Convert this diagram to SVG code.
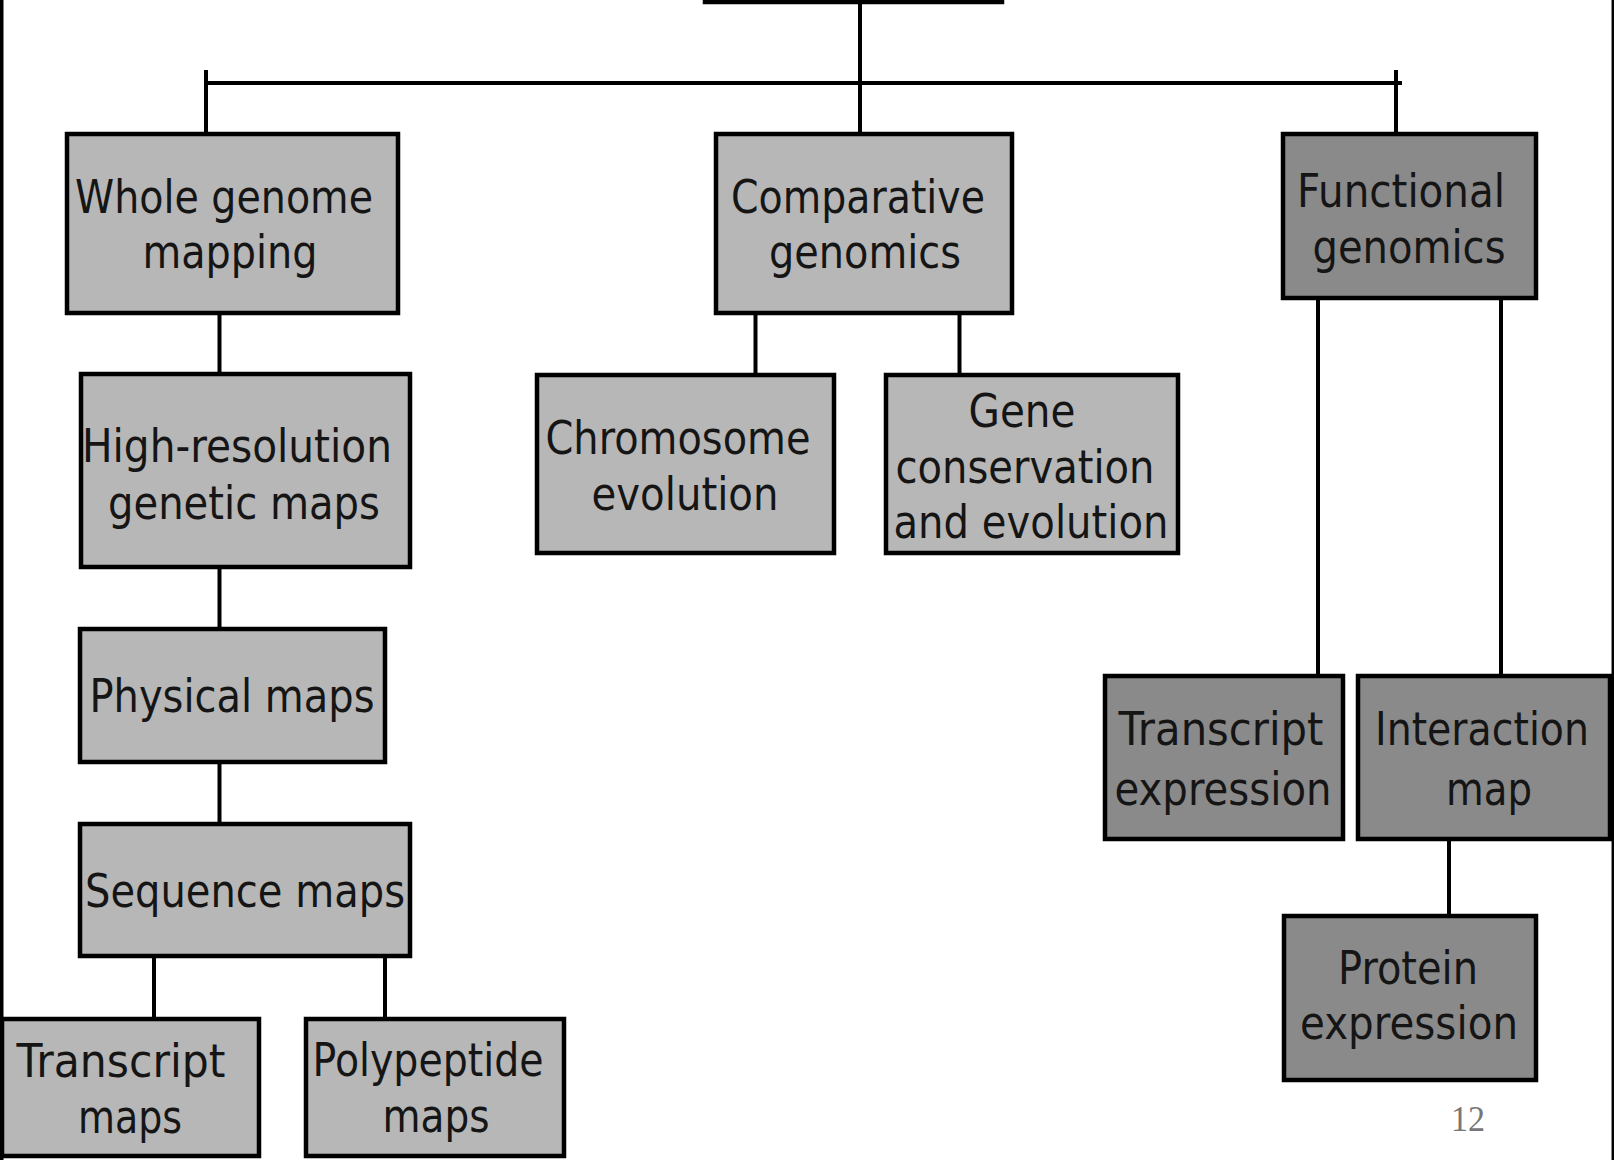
<svg xmlns="http://www.w3.org/2000/svg" width="1614" height="1160" viewBox="0 0 1614 1160">
<style>
.box{stroke:#000;stroke-width:4.5}
.light{fill:#b7b7b7}
.dark{fill:#8a8a8a}
.c{stroke:#000;stroke-width:4;fill:none}
text{font-family:"DejaVu Sans","Verdana",sans-serif;font-size:47px;fill:#151515;text-anchor:middle}
.pg{font-family:"Liberation Serif",serif;font-size:36px;fill:#777}
</style>
<rect width="1614" height="1160" fill="#fff"/>
<g id="frame">
<line x1="1.75" y1="0" x2="1.75" y2="1160" stroke="#000" stroke-width="3.5"/>
<line x1="1612.8" y1="0" x2="1612.8" y2="1160" stroke="#000" stroke-width="2.5"/>
</g>
<g id="connectors">
<line class="c" x1="860" y1="0" x2="860" y2="133"/>
<line class="c" x1="204" y1="83" x2="1402" y2="83" stroke-width="5.5"/>
<line class="c" x1="206" y1="70" x2="206" y2="133" stroke-width="3.5"/>
<line class="c" x1="1396" y1="70" x2="1396" y2="133" stroke-width="3.5"/>
<line class="c" x1="219.5" y1="314" x2="219.5" y2="374"/>
<line class="c" x1="219.5" y1="568" x2="219.5" y2="629"/>
<line class="c" x1="219.5" y1="763" x2="219.5" y2="824"/>
<line class="c" x1="154" y1="957" x2="154" y2="1019"/>
<line class="c" x1="385" y1="957" x2="385" y2="1019"/>
<line class="c" x1="755.5" y1="314" x2="755.5" y2="375"/>
<line class="c" x1="959.5" y1="314" x2="959.5" y2="375"/>
<line class="c" x1="1318" y1="299" x2="1318" y2="676"/>
<line class="c" x1="1501" y1="299" x2="1501" y2="676"/>
<line class="c" x1="1449" y1="840" x2="1449" y2="916"/>
</g>
<g id="root"><rect class="box" x="705" y="-60" width="297" height="62" fill="#fff"/></g>
<g id="whole-genome-mapping"><rect class="box light" x="67" y="134" width="331" height="179"/>
<text x="224" y="213" textLength="298" lengthAdjust="spacingAndGlyphs">Whole genome</text>
<text x="230" y="268" textLength="175" lengthAdjust="spacingAndGlyphs">mapping</text></g>
<g id="comparative-genomics"><rect class="box light" x="716" y="134" width="296" height="179"/>
<text x="858" y="213" textLength="254" lengthAdjust="spacingAndGlyphs">Comparative</text>
<text x="865" y="268" textLength="192" lengthAdjust="spacingAndGlyphs">genomics</text></g>
<g id="functional-genomics"><rect class="box dark" x="1283" y="134" width="253" height="164"/>
<text x="1401" y="207" textLength="208" lengthAdjust="spacingAndGlyphs">Functional</text>
<text x="1409" y="263" textLength="193" lengthAdjust="spacingAndGlyphs">genomics</text></g>
<g id="high-resolution-genetic-maps"><rect class="box light" x="81" y="374" width="329" height="193"/>
<text x="237" y="462" textLength="310" lengthAdjust="spacingAndGlyphs">High-resolution</text>
<text x="244" y="519" textLength="272" lengthAdjust="spacingAndGlyphs">genetic maps</text></g>
<g id="physical-maps"><rect class="box light" x="80" y="629" width="305" height="133"/>
<text x="232" y="712" textLength="285" lengthAdjust="spacingAndGlyphs">Physical maps</text></g>
<g id="sequence-maps"><rect class="box light" x="80" y="824" width="330" height="132"/>
<text x="245" y="907" textLength="320" lengthAdjust="spacingAndGlyphs">Sequence maps</text></g>
<g id="transcript-maps"><rect class="box light" x="2" y="1019" width="257" height="137"/>
<text x="121" y="1077" textLength="209" lengthAdjust="spacingAndGlyphs">Transcript</text>
<text x="130" y="1133" textLength="104" lengthAdjust="spacingAndGlyphs">maps</text></g>
<g id="polypeptide-maps"><rect class="box light" x="306" y="1019" width="258" height="137"/>
<text x="428" y="1076" textLength="231" lengthAdjust="spacingAndGlyphs">Polypeptide</text>
<text x="436" y="1132" textLength="107" lengthAdjust="spacingAndGlyphs">maps</text></g>
<g id="chromosome-evolution"><rect class="box light" x="537" y="375" width="297" height="178"/>
<text x="678" y="454" textLength="265" lengthAdjust="spacingAndGlyphs">Chromosome</text>
<text x="685" y="510" textLength="187" lengthAdjust="spacingAndGlyphs">evolution</text></g>
<g id="gene-conservation-and-evolution"><rect class="box light" x="886" y="375" width="292" height="178"/>
<text x="1022" y="427" textLength="107" lengthAdjust="spacingAndGlyphs">Gene</text>
<text x="1025" y="483" textLength="259" lengthAdjust="spacingAndGlyphs">conservation</text>
<text x="1031" y="538" textLength="275" lengthAdjust="spacingAndGlyphs">and evolution</text></g>
<g id="transcript-expression"><rect class="box dark" x="1105" y="676" width="238" height="163"/>
<text x="1221" y="745" textLength="205" lengthAdjust="spacingAndGlyphs">Transcript</text>
<text x="1223" y="805" textLength="217" lengthAdjust="spacingAndGlyphs">expression</text></g>
<g id="interaction-map"><rect class="box dark" x="1358" y="676" width="252" height="163"/>
<text x="1482" y="745" textLength="214" lengthAdjust="spacingAndGlyphs">Interaction</text>
<text x="1489" y="805" textLength="86" lengthAdjust="spacingAndGlyphs">map</text></g>
<g id="protein-expression"><rect class="box dark" x="1284" y="916" width="252" height="164"/>
<text x="1408" y="984" textLength="140" lengthAdjust="spacingAndGlyphs">Protein</text>
<text x="1409" y="1039" textLength="218" lengthAdjust="spacingAndGlyphs">expression</text></g>
<text class="pg" x="1468" y="1131" textLength="34" lengthAdjust="spacingAndGlyphs">12</text>
</svg>
